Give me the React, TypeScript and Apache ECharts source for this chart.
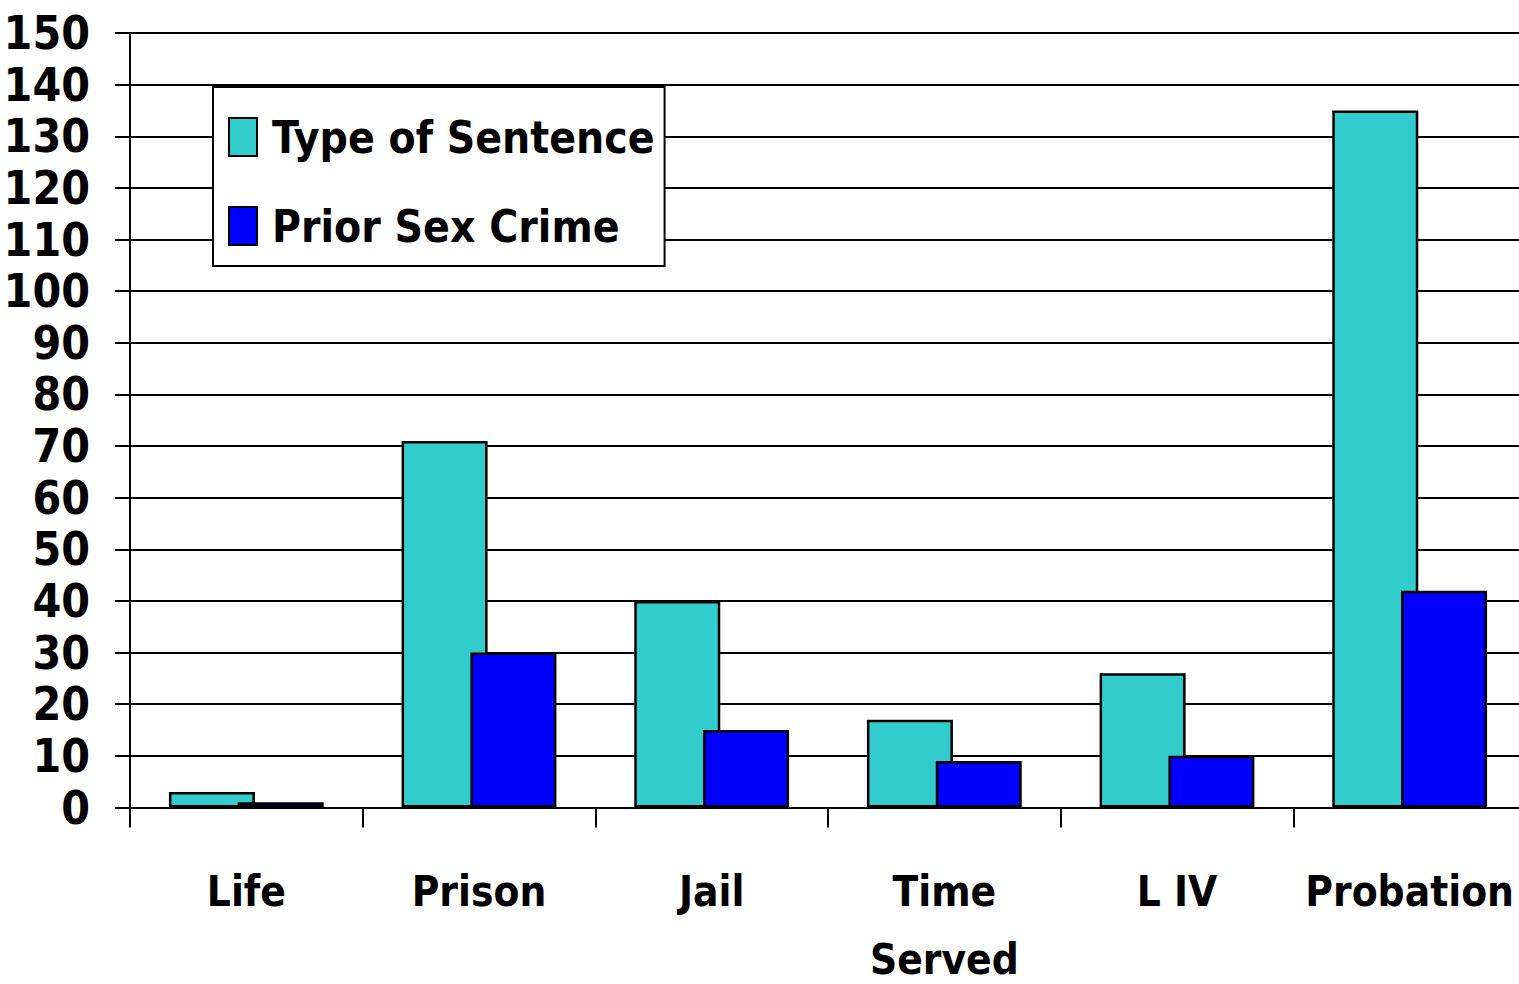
import React, { useEffect, useRef } from "react";
import * as echarts from "echarts";

const categories = ["Life", "Prison", "Jail", "Time\nServed", "L IV", "Probation"];
const typeOfSentence = [3, 71, 40, 17, 26, 135];
const priorSexCrime = [1, 30, 15, 9, 10, 42];
const seriesNames = ["Type of Sentence", "Prior Sex Crime"];

const FONT = "'Liberation Sans Narrow', 'Arial Narrow', 'DejaVu Sans Condensed', sans-serif";

export default function App() {
  const ref = useRef<HTMLDivElement>(null);
  useEffect(() => {
    document.body.style.margin = "0";
    const chart = echarts.init(ref.current!, undefined, { renderer: "svg" });
    chart.setOption({
      animation: false,
      backgroundColor: "#ffffff",
      textStyle: { fontFamily: FONT },
      grid: {
        left: 130,
        top: 33,
        width: 1396,
        height: 774.5,
        containLabel: false,
        outerBoundsMode: "none",
      },
      legend: {
        orient: "vertical",
        left: 213,
        top: 87,
        padding: [23, 10, 13, 15],
        itemGap: 35,
        itemWidth: 28,
        itemHeight: 38,
        backgroundColor: "#ffffff",
        borderColor: "#000000",
        borderWidth: 2,
        icon: "rect",
        textStyle: {
          fontFamily: FONT,
          fontWeight: "bold",
          fontSize: 44,
          lineHeight: 54,
          padding: [0, 0, 0, 10],
          color: "#000000",
        },
        data: seriesNames,
      },
      xAxis: {
        type: "category",
        data: categories,
        axisLine: { lineStyle: { color: "#000", width: 2 } },
        axisTick: { show: true, length: 20, lineStyle: { color: "#000", width: 2 } },
        axisLabel: {
          interval: 0,
          margin: 50,
          hideOverlap: false,
          fontFamily: FONT,
          fontWeight: "bold",
          fontSize: 42,
          lineHeight: 68,
          color: "#000",
        },
      },
      yAxis: {
        type: "value",
        min: 0,
        max: 150,
        interval: 10,
        axisLine: { show: true, lineStyle: { color: "#000", width: 2 } },
        axisTick: { show: true, length: 15, lineStyle: { color: "#000", width: 2 } },
        splitLine: { show: true, lineStyle: { color: "#000", width: 2 } },
        axisLabel: {
          margin: 40,
          showMinLabel: true,
          showMaxLabel: true,
          hideOverlap: false,
          fontFamily: FONT,
          fontWeight: "bold",
          fontSize: 46,
          lineHeight: 50,
          color: "#000",
        },
      },
      series: [
        {
          name: seriesNames[0],
          type: "bar",
          data: typeOfSentence,
          barWidth: 86,
          barGap: "-20%",
          itemStyle: { color: "#33CCCC", borderColor: "#000", borderWidth: 2.5 },
        },
        {
          name: seriesNames[1],
          type: "bar",
          data: priorSexCrime,
          barWidth: 86,
          barGap: "-20%",
          itemStyle: { color: "#0000FF", borderColor: "#000", borderWidth: 2.5 },
        },
      ],
    });
    return () => chart.dispose();
  }, []);
  return <div ref={ref} style={{ width: 1519, height: 984 }} />;
}
